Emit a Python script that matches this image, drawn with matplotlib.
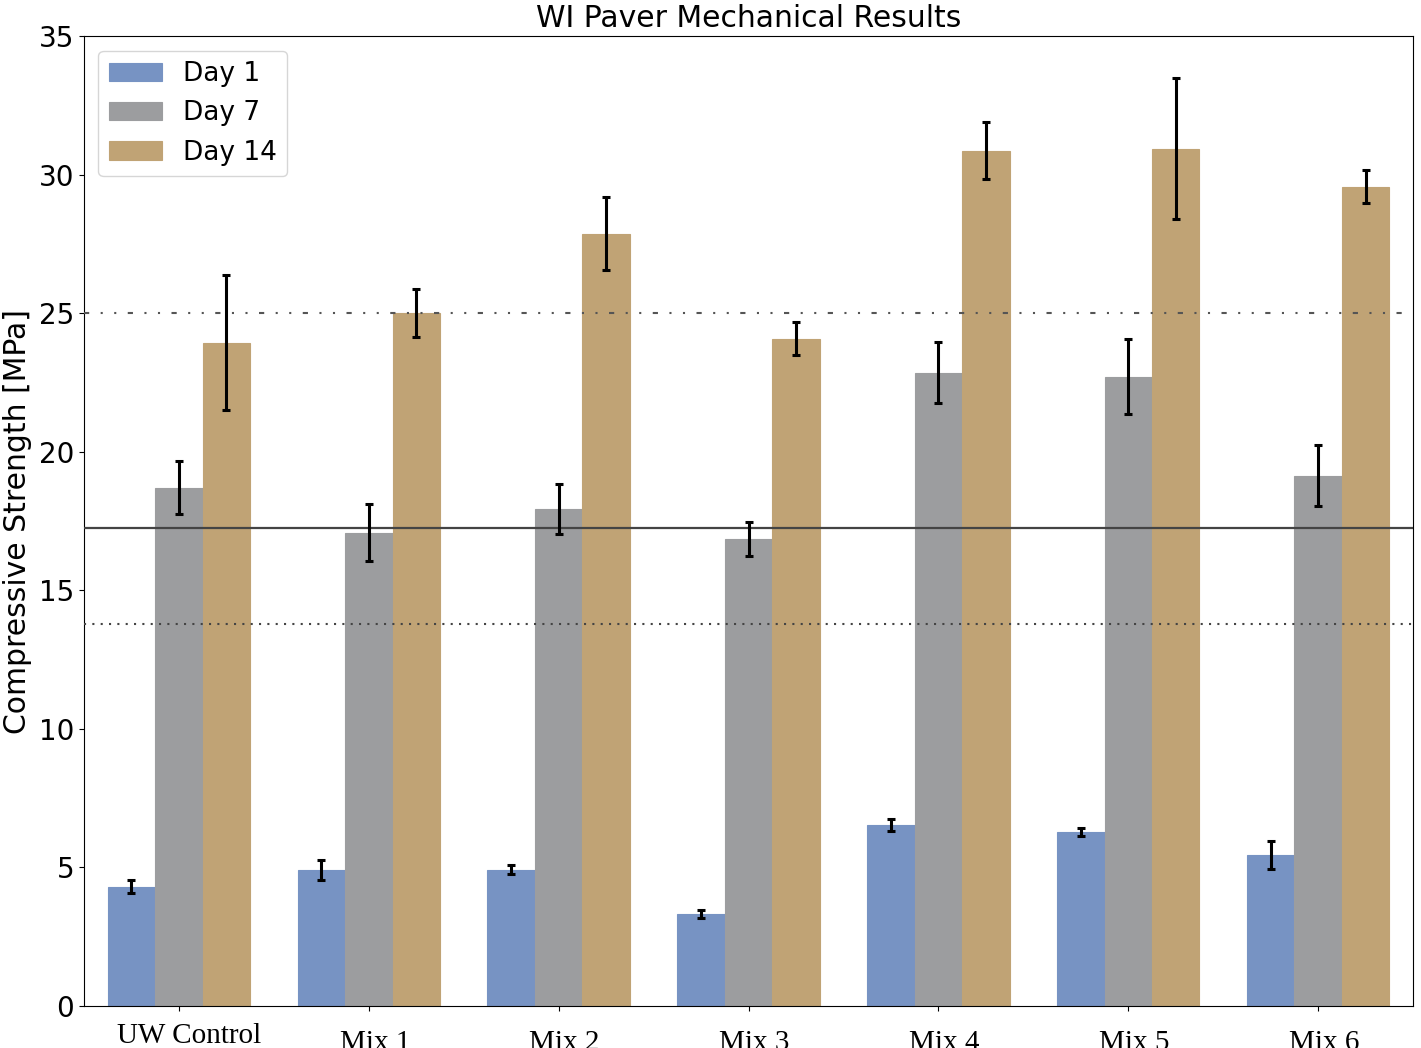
import matplotlib.pyplot as plt
import matplotlib.transforms as mtransforms
import numpy as np

mezclas = ['UW Control', 'Mix 1', 'Mix 2', 'Mix 3', 'Mix 4', 'Mix 5', 'Mix 6']

dia1 = [4.30, 4.92, 4.92, 3.32, 6.53, 6.28, 5.45]
dia1_err = [0.23, 0.36, 0.15, 0.13, 0.23, 0.13, 0.52]

dia7 = [18.70, 17.08, 17.94, 16.86, 22.85, 22.71, 19.13]
dia7_err = [0.96, 1.03, 0.90, 0.61, 1.10, 1.35, 1.10]

dia14 = [23.94, 25.02, 27.87, 24.08, 30.87, 30.94, 29.57]
dia14_err = [2.45, 0.87, 1.32, 0.60, 1.03, 2.55, 0.58]

lineas_ref = [25.0, 17.24, 13.79]

colores = ['#7793c3', '#9c9d9f', '#c0a375']

fig = plt.figure(figsize=(14.21, 10.48), dpi=100)
ax = fig.add_subplot(111)
fig.subplots_adjust(left=0.0591, right=0.9944, top=0.9656, bottom=0.0401)

x = np.arange(len(mezclas))
ancho = 0.25
series = [(dia1, dia1_err, 'Day 1'), (dia7, dia7_err, 'Day 7'), (dia14, dia14_err, 'Day 14')]
for i, (vals, errs, nombre) in enumerate(series):
    pos = x + (i - 1) * ancho
    ax.bar(pos, vals, ancho, color=colores[i], edgecolor=colores[i], linewidth=0.8,
           label=nombre, zorder=2)
    ax.errorbar(pos, vals, yerr=errs, fmt='none', ecolor='black', elinewidth=2.2,
                capsize=3, capthick=2.2, zorder=4)

ax.axhline(lineas_ref[0], color='#555555', linewidth=1.5,
           linestyle=(0, (2.5, 5.5, 1, 5.5, 1, 5.5)), zorder=3)
ax.axhline(lineas_ref[1], color='#444444', linewidth=1.6, linestyle='-', zorder=3)
ax.axhline(lineas_ref[2], color='#444444', linewidth=1.5, linestyle=(0, (1, 3)), zorder=3)

ax.set_xlim(-0.5, 6.5)
ax.set_ylim(0, 35)
ax.set_yticks(np.arange(0, 36, 5))
ax.set_xticks(x)
ax.set_xticklabels(mezclas, family='Liberation Serif', fontsize=21)
ax.tick_params(axis='y', labelsize=20)
ax.tick_params(axis='x', pad=8.5)

# en la original las etiquetas están algo a la derecha, y las "Mix" más abajo
for j, etiqueta in enumerate(ax.get_xticklabels()):
    dy = 0 if j == 0 else -7
    dx = 10 if j == 0 else 6
    desplazamiento = mtransforms.ScaledTranslation(dx / 100, dy / 100, fig.dpi_scale_trans)
    etiqueta.set_transform(etiqueta.get_transform() + desplazamiento)

ax.set_ylabel('Compressive Strength [MPa]', fontsize=21.5, labelpad=5)
ax.set_title('WI Paver Mechanical Results', fontsize=21.5, pad=6.5)
ax.legend(loc='upper left', fontsize=19, borderaxespad=0.55)

plt.savefig('out.png', dpi=100)
plt.close()
